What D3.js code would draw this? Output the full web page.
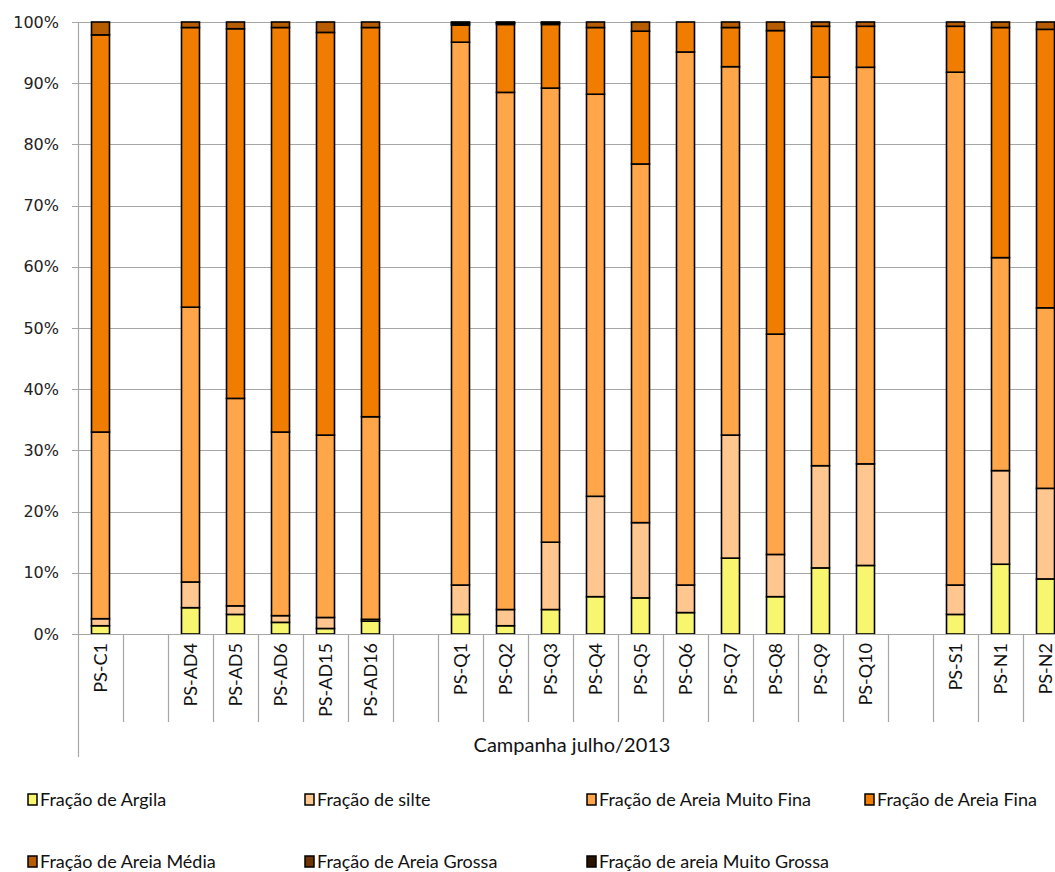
<!DOCTYPE html>
<html>
<head>
<meta charset="utf-8">
<script src="https://cdn.jsdelivr.net/npm/d3@7"></script>
<style>
  html, body { margin: 0; padding: 0; background: #fff; }
  svg { display: block; }
</style>
</head>
<body>
<svg id="chart" width="1055" height="872"></svg>
<script>
// Sampling points (empty strings are spacer slots between groups)
const samples = ["PS-C1", "", "PS-AD4", "PS-AD5", "PS-AD6", "PS-AD15", "PS-AD16", "",
  "PS-Q1", "PS-Q2", "PS-Q3", "PS-Q4", "PS-Q5", "PS-Q6", "PS-Q7", "PS-Q8", "PS-Q9", "PS-Q10", "",
  "PS-S1", "PS-N1", "PS-N2"];

// Grain-size fractions (%) per sample, in the same order as samples
const argila       = [1.35, null, 4.3, 3.2, 1.9, 0.9, 2.1, null, 3.2, 1.35, 4.0, 6.1, 5.9, 3.5, 12.4, 6.1, 10.8, 11.2, null, 3.2, 11.4, 9.0];
const silte        = [1.15, null, 4.2, 1.4, 1.1, 1.8, 0.3, null, 4.8, 2.65, 11.0, 16.4, 12.3, 4.5, 20.1, 6.9, 16.7, 16.6, null, 4.8, 15.3, 14.8];
const areiaMF      = [30.5, null, 44.9, 33.9, 30.0, 29.8, 33.1, null, 88.7, 84.5, 74.2, 65.7, 58.6, 87.1, 60.2, 36.0, 63.5, 64.8, null, 83.8, 34.8, 29.5];
const areiaFina    = [64.9, null, 45.7, 60.4, 66.1, 65.8, 63.6, null, 2.8, 11.1, 10.4, 10.9, 21.7, 4.9, 6.4, 49.6, 8.3, 6.7, null, 7.5, 37.6, 45.5];
const areiaMedia   = [2.1, null, 0.9, 1.1, 0.9, 1.7, 0.9, null, 0.2, 0.2, 0.2, 0.9, 1.5, 0.0, 0.9, 1.4, 0.7, 0.7, null, 0.7, 0.9, 1.2];
const areiaGrossa  = [0, null, 0, 0, 0, 0, 0, null, 0.2, 0.1, 0.1, 0, 0, 0, 0, 0, 0, 0, null, 0, 0, 0];
const areiaMGrossa = [0, null, 0, 0, 0, 0, 0, null, 0.1, 0.1, 0.1, 0, 0, 0, 0, 0, 0, 0, null, 0, 0, 0];

const seriesNames = ["Fração de Argila", "Fração de silte", "Fração de Areia Muito Fina", "Fração de Areia Fina",
  "Fração de Areia Média", "Fração de Areia Grossa", "Fração de areia Muito Grossa"];
const seriesValues = [argila, silte, areiaMF, areiaFina, areiaMedia, areiaGrossa, areiaMGrossa];
const seriesColors = ["#F8F56E", "#FFC690", "#FFA54A", "#F07D00", "#B85C00", "#6E3500", "#2A1400"];

const yTicks = [0, 0.1, 0.2, 0.3, 0.4, 0.5, 0.6, 0.7, 0.8, 0.9, 1];
const groupTitle = "Campanha julho/2013";

// Table for d3.stack
const rows = samples.map((s, i) => {
  const r = { idx: i, name: s, empty: argila[i] === null };
  seriesNames.forEach((k, j) => { r[k] = seriesValues[j][i] || 0; });
  return r;
});

const svg = d3.select("#chart");
const margin = { left: 78, top: 22, bottom: 634 };
const slot = 45;

const x = d3.scaleBand()
  .domain(samples.map((s, i) => i))
  .range([margin.left, margin.left + slot * samples.length])
  .paddingInner(0.6).paddingOuter(0.3);

const y = d3.scaleLinear().domain([0, 1]).range([margin.bottom, margin.top]);

// Horizontal gridlines with short ticks left of the axis
const grid = svg.append("g").attr("class", "grid");
grid.selectAll("line").data(yTicks).join("line")
  .attr("x1", margin.left - 6).attr("x2", 1055)
  .attr("y1", d => Math.round(y(d)) + 0.5).attr("y2", d => Math.round(y(d)) + 0.5)
  .attr("stroke", "#a6a6a6").attr("stroke-width", 1.2);

// Y axis labels
const yAxis = svg.append("g").attr("transform", `translate(${margin.left},0)`)
  .call(d3.axisLeft(y).tickValues(yTicks).tickFormat(d3.format(".0%")).tickSize(0).tickPadding(19));
yAxis.select(".domain").remove();
yAxis.selectAll("text")
  .attr("font-family", "DejaVu Sans").attr("font-size", 16).attr("fill", "#222");

// Stacked bars (percent of total)
const stack = d3.stack().keys(seriesNames).offset(d3.stackOffsetExpand);
const stacked = stack(rows.filter(r => !r.empty));

svg.append("g").selectAll("g").data(stacked).join("g")
  .attr("fill", (d, i) => seriesColors[i])
  .selectAll("rect").data(d => d.filter(p => p[1] - p[0] > 0)).join("rect")
  .attr("x", d => x(d.data.idx))
  .attr("width", x.bandwidth())
  .attr("y", d => y(d[1]))
  .attr("height", d => y(d[0]) - y(d[1]))
  .attr("stroke", "#000").attr("stroke-width", 1.6);

// Left axis line, extending through the category area
svg.append("line")
  .attr("x1", margin.left + 0.5).attr("x2", margin.left + 0.5)
  .attr("y1", margin.top).attr("y2", 757)
  .attr("stroke", "#a6a6a6").attr("stroke-width", 1.2);

// Baseline
svg.append("line")
  .attr("x1", margin.left).attr("x2", 1055)
  .attr("y1", margin.bottom + 0.5).attr("y2", margin.bottom + 0.5)
  .attr("stroke", "#a6a6a6").attr("stroke-width", 1.2);

// Category separators
const bounds = d3.range(1, samples.length + 1).map(i => margin.left + i * slot);
svg.append("g").selectAll("line").data(bounds).join("line")
  .attr("x1", d => d + 0.5).attr("x2", d => d + 0.5)
  .attr("y1", margin.bottom).attr("y2", 722)
  .attr("stroke", "#a6a6a6").attr("stroke-width", 1.2);

// Category labels (rotated)
svg.append("g").selectAll("text").data(rows.filter(r => r.name)).join("text")
  .attr("transform", d => `translate(${x(d.idx) + x.bandwidth() / 2 + 6},643) rotate(-90)`)
  .attr("text-anchor", "end")
  .attr("font-family", "Lato").attr("font-size", 18).attr("fill", "#111")
  .text(d => d.name);

// Group title
svg.append("text")
  .attr("x", 572).attr("y", 752)
  .attr("text-anchor", "middle")
  .attr("font-family", "Lato").attr("font-size", 20).attr("fill", "#111")
  .text(groupTitle);

// Legend
const legendPos = [[28, 800], [305, 800], [587, 800], [865, 800], [28, 862], [305, 862], [587, 862]];
const legend = svg.append("g").selectAll("g").data(seriesNames).join("g")
  .attr("transform", (d, i) => `translate(${legendPos[i][0]},${legendPos[i][1]})`);
legend.append("rect")
  .attr("x", 0).attr("y", -6).attr("width", 9).attr("height", 11)
  .attr("fill", (d, i) => seriesColors[i]).attr("stroke", "#000").attr("stroke-width", 1.5);
legend.append("text")
  .attr("x", 12).attr("y", 6)
  .attr("font-family", "Lato").attr("font-size", 18).attr("fill", "#111")
  .text(d => d);
</script>
</body>
</html>
